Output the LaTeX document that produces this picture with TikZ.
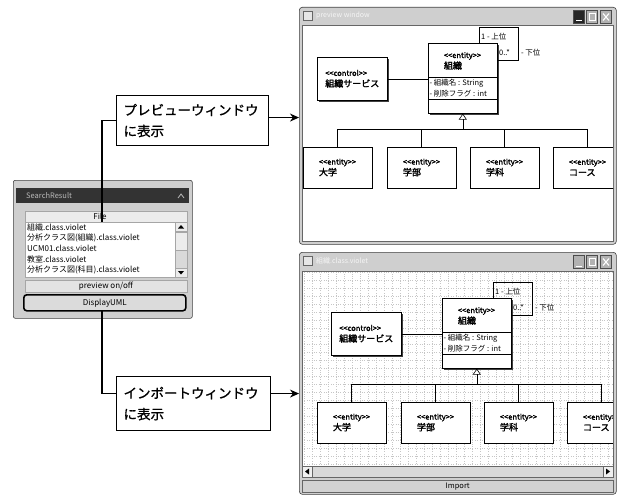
\documentclass[tikz,border=0pt]{standalone}
\usepackage{fontspec}
\setmainfont{Noto Sans CJK JP}[AutoFakeBold=2]
\newfontfamily\lblfamily{Noto Sans CJK JP}[AutoFakeBold=1]
\usetikzlibrary{arrows.meta,shadows}
\newcommand\st[1]{<\kern0pt<#1>\kern0pt>}
\newcommand\umlfont{\fontsize{7.5}{11}\selectfont}
\newcommand\umlname{\fontsize{9}{11}\selectfont}
\tikzset{
  conn/.style={line width=1.1pt, black},
  arr/.style={conn, -{Stealth[length=9pt,width=8pt]}},
  lbl/.style={draw, line width=1.1pt, fill=white, align=left, font=\lblfamily\bfseries\fontsize{13.5}{21}\selectfont,
    inner xsep=7pt, inner ysep=3pt, anchor=north west, text width=138pt},
  frame/.style={draw=black!75, fill=gray!38, line width=0.6pt},
  umlbox/.style={draw, fill=white, line width=0.6pt,
    drop shadow={shadow xshift=1.3pt, shadow yshift=-1.3pt, fill=black!75, opacity=1}},
  umlline/.style={line width=0.6pt},
  gen/.style={umlline, -{Triangle[open,length=6pt,width=8pt]}},
  childbox/.style={umlbox, minimum width=69pt, minimum height=41pt, align=left, font=\umlfont\bfseries, inner sep=0pt},
  attr/.style={font=\umlfont, inner sep=0pt, anchor=west},
  wbtn/.style={draw=black!70, fill=gray!60, minimum width=11pt, minimum height=13pt, inner sep=0pt},
  listitem/.style={font=\fontsize{8}{9}\selectfont, inner sep=0pt, anchor=west},
}
\newcommand\umlcontent{%
  \node[umlbox, minimum width=70pt, minimum height=43pt, anchor=north west, align=left, font=\umlfont\bfseries, inner sep=0pt] (ctrl) at (317,57) {\st{control}\\{\umlname 組織サービス}};
  \node[umlbox, minimum width=69pt, minimum height=70pt, anchor=north west] (ent) at (428,43) {};
  \node[font=\umlfont\bfseries, align=left, inner sep=0pt] (entname) at (462.5,61) {\st{entity}\\{\umlname 組織}};
  \draw[umlline] (ent.west |- 0,77) -- (ent.east |- 0,77);
  \draw[umlline] (ent.west |- 0,99) -- (ent.east |- 0,99);
  \node[attr] (attra) at (429.5,83) {- 組織名 : String};
  \node[attr] (attrb) at (429.5,94) {- 削除フラグ : int};
  \draw[umlline] (ctrl.east) -- (ctrl.east -| ent.west);
  \draw[umlline] (ent.north -| 479,0) |- (518,27) |- (ent.east |- 0,60);
  \node[attr] (multa) at (481,37) {1 - 上位};
  \node[attr] (multb) at (499,53) {0..*};
  \node[attr] (roleb) at (521,53) {- 下位};
  \node[childbox] (ca) at (337.5,167.5) {\st{entity}\\{\umlname 大学}};
  \node[childbox] (cb) at (421.5,167.5) {\st{entity}\\{\umlname 学部}};
  \node[childbox] (cc) at (504.5,167.5) {\st{entity}\\{\umlname 学科}};
  \node[childbox] (cd) at (587.5,167.5) {\st{entity}\\{\umlname コース}};
  \draw[umlline] (ca.north) |- (cd.north |- 0,129) -- (cd.north);
  \draw[umlline] (cb.north) -- (cb.north |- 0,129);
  \draw[umlline] (cc.north) -- (cc.north |- 0,129);
  \draw[gen] (ent.south |- 0,129) -- (ent.south);
}
\begin{document}
\begin{tikzpicture}[x=1pt,y=-1pt]
\useasboundingbox[fill=white] (0,0) rectangle (623,495);

% ---------- SearchResult panel ----------
\node[frame, rounded corners=2pt, minimum width=179pt, minimum height=138pt, anchor=north west] (panel) at (13,180) {};
\node[fill=black!80, minimum width=173pt, minimum height=15pt, anchor=north west, inner sep=0pt] (ptitle) at (16,188) {};
\node[font=\fontsize{7.5}{9}\selectfont, text=gray!55, anchor=west, inner sep=0pt] (ptitletxt) at (26,195.5) {SearchResult};
\draw[gray!55, line width=0.8pt] (178,198) -- (181,194) -- (184,198);
\node[draw=gray!70, fill=gray!15, minimum width=162pt, minimum height=11pt, anchor=north west, inner sep=0pt] (filehdr) at (25,211) {};
\node[font=\fontsize{8}{9}\selectfont, inner sep=0pt] (filetxt) at (100,216.5) {File};
\node[draw=gray!70, fill=white, minimum width=150pt, minimum height=55pt, anchor=north west, inner sep=0pt] (plist) at (25,222) {};
\node[draw=gray!70, fill=gray!30, minimum width=12pt, minimum height=55pt, anchor=north west, inner sep=0pt] (pscroll) at (175,222) {};
\node[draw=gray!70, fill=gray!15, minimum width=12pt, minimum height=9pt, anchor=north west, inner sep=0pt] (pup) at (175,222) {};
\node[draw=gray!70, fill=gray!15, minimum width=12pt, minimum height=18pt, anchor=north west, inner sep=0pt] (pthumb) at (175,232) {};
\node[draw=gray!70, fill=gray!15, minimum width=12pt, minimum height=9pt, anchor=north west, inner sep=0pt] (pdown) at (175,268) {};
\fill[black] (178,228.5) -- (181,225) -- (184,228.5) -- cycle;
\fill[black] (178,271) -- (181,274.5) -- (184,271) -- cycle;
\node[listitem] (it1) at (27,227.5) {組織.class.violet};
\node[listitem] (it2) at (27,238) {分析クラス図(組織).class.violet};
\node[listitem] (it3) at (27,248.5) {UCM01.class.violet};
\node[listitem] (it4) at (27,259) {教室.class.violet};
\node[listitem] (it5) at (27,269.5) {分析クラス図(科目).class.violet};
\node[draw=gray!70, fill=gray!22, minimum width=162pt, minimum height=12pt, anchor=north west, inner sep=0pt] (pprev) at (25,280) {};
\node[font=\fontsize{8}{9}\selectfont, inner sep=0pt] (pprevtxt) at (106,286.5) {preview on/off};
\node[draw=black, line width=1.6pt, rounded corners=3pt, fill=gray!28, minimum width=162pt, minimum height=16pt, anchor=north west, inner sep=0pt, font=\fontsize{8}{9}\selectfont] (dispbtn) at (23,294) {DisplayUML};

% ---------- label boxes ----------
\node[lbl, minimum height=50pt] (lblprev) at (116,95) {プレビューウィンドウ\\に表示};
\node[lbl, minimum height=54pt, text width=140pt] (lblimp) at (116,376) {インポートウィンドウ\\に表示};

% ---------- preview window ----------
\node[frame, rounded corners=3pt, minimum width=317pt, minimum height=237pt, anchor=north west, inner sep=0pt] (prevwin) at (299,7) {};
\fill[white] (302,25) rectangle (613,241);
\draw[black!60, line width=0.5pt] (302,25) rectangle (613,241);
\node[draw=black!60, fill=gray!20, minimum size=9pt, inner sep=0pt] (picon) at (308,16) {};
\node[font=\fontsize{7}{8}\selectfont, text=gray!8, anchor=west, inner sep=0pt] (ptxt) at (316,16) {preview window};
\node[wbtn, fill=black!85] (pmin) at (579,17) {};
\node[wbtn] (pmax) at (592,17) {};
\node[wbtn] (pclose) at (606,17) {};
\draw[white, line width=1pt] (576,21) -- (582,21);
\draw[white, line width=0.8pt] (589,13.5) rectangle (595,20.5);
\draw[white, line width=1.1pt] (603,13.5) -- (609,20.5) (609,13.5) -- (603,20.5);
\begin{scope}
  \clip (302,25) rectangle (613,241);
  \begin{scope}[name prefix=t-]
    \umlcontent
  \end{scope}
\end{scope}

% ---------- import window ----------
\node[frame, rounded corners=3pt, minimum width=317pt, minimum height=242pt, anchor=north west, inner sep=0pt] (impwin) at (299,252) {};
\fill[white] (302,271) rectangle (613,466);
\begin{scope}
  \clip (302,271) rectangle (613,466);
  \draw[gray!45, line width=0.4pt, dotted, step=8pt] (302,271) grid (613,466);
  \begin{scope}[shift={(14,255)}, name prefix=b-]
    \umlcontent
  \end{scope}
\end{scope}
\draw[black!60, line width=0.5pt] (302,271) rectangle (613,466);
\node[draw=black!60, fill=gray!20, minimum size=9pt, inner sep=0pt] (iicon) at (308,261) {};
\node[font=\fontsize{7}{8}\selectfont, text=gray!8, anchor=west, inner sep=0pt] (itxt) at (316,261) {組織.class.violet};
\node[wbtn] (imin) at (579,262) {};
\node[wbtn] (imax) at (592,262) {};
\node[wbtn] (iclose) at (606,262) {};
\draw[white, line width=1pt] (576,266) -- (582,266);
\draw[white, line width=0.8pt] (589,258.5) rectangle (595,265.5);
\draw[white, line width=1.1pt] (603,258.5) -- (609,265.5) (609,258.5) -- (603,265.5);
% scrollbar
\node[draw=black!60, fill=gray!30, minimum width=311pt, minimum height=11pt, anchor=north west, inner sep=0pt] (iscroll) at (302,466) {};
\node[draw=black!60, fill=gray!12, minimum width=10pt, minimum height=11pt, anchor=north west, inner sep=0pt] (ileft) at (302,466) {};
\node[draw=black!60, fill=gray!12, minimum width=10pt, minimum height=11pt, anchor=north west, inner sep=0pt] (iright) at (603,466) {};
\fill[black] (305,471.5) -- (309,468.5) -- (309,474.5) -- cycle;
\fill[black] (610,471.5) -- (606,468.5) -- (606,474.5) -- cycle;
\node[draw=black!60, fill=gray!35, minimum width=311pt, minimum height=12pt, anchor=north west, inner sep=0pt, font=\fontsize{7.5}{9}\selectfont] (iimport) at (302,480) {Import};

% ---------- connectors ----------
\coordinate (filept) at (102,222);
\coordinate (disppt) at (102,310);
\draw[conn] (filept) |- (lblprev.west);
\draw[conn] (disppt) |- ([yshift=10pt]lblimp.west);
\draw[arr] ([yshift=3pt]lblprev.east) -- ([yshift=3pt]lblprev.east -| prevwin.west);
\draw[arr] ([yshift=10pt]lblimp.east) -- ([yshift=10pt]lblimp.east -| impwin.west);
\end{tikzpicture}
\end{document}
